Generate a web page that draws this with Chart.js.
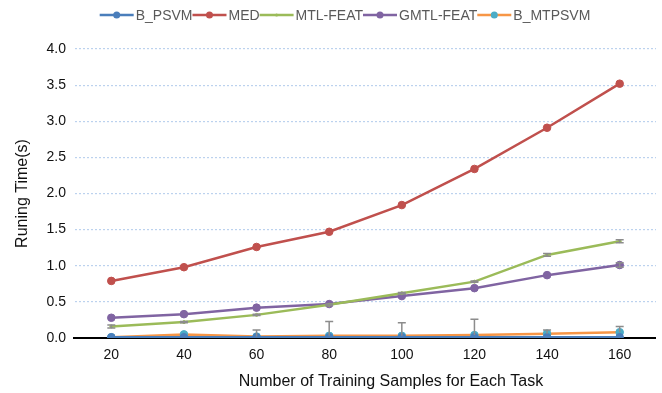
<!DOCTYPE html>
<html>
<head>
<meta charset="utf-8">
<script src="https://cdn.jsdelivr.net/npm/chart.js@4/dist/chart.umd.min.js"></script>
<style>
  html, body { margin: 0; padding: 0; background: #fff; }
  #wrap { width: 662px; height: 393px; }
</style>
</head>
<body>
<div id="wrap"><canvas id="myChart" width="662" height="393"></canvas></div>
<script>
var samples = ['20', '40', '60', '80', '100', '120', '140', '160'];

var bPsvm    = [0.01, 0.01, 0.01, 0.01, 0.01, 0.01, 0.01, 0.01];
var med      = [0.79, 0.98, 1.26, 1.47, 1.84, 2.34, 2.91, 3.52];
var mtlFeat  = [0.16, 0.22, 0.32, 0.46, 0.62, 0.78, 1.15, 1.34];
var gmtlFeat = [0.28, 0.33, 0.42, 0.47, 0.58, 0.69, 0.87, 1.01];
var bMtpsvm  = [0.01, 0.05, 0.02, 0.03, 0.03, 0.04, 0.06, 0.08];

// error bar half-ranges
var mtlFeatErr  = [0.02, 0.01, 0.01, 0.01, 0.01, 0.01, 0.02, 0.02];
var gmtlFeatErr = [0.0, 0.0, 0.0, 0.0, 0.0, 0.0, 0.0, 0.03];
var bMtpsvmErr  = [0.0, 0.0, 0.09, 0.2, 0.18, 0.22, 0.05, 0.08];

var yTicks = [0, 0.5, 1, 1.5, 2, 2.5, 3, 3.5, 4];
var xTitle = 'Number of Training Samples for Each Task';

var FONT = '"Liberation Sans", Arial, sans-serif';

var errorBars = {
    id: 'errorBars',
    afterDatasetsDraw: function (chart) {
        var ctx = chart.ctx;
        var xs = chart.scales.x, ys = chart.scales.y;
        chart.data.datasets.forEach(function (ds) {
            if (!ds.errors) return;
            ds.data.forEach(function (v, i) {
                var e = ds.errors[i];
                if (!e) return;
                var x = xs.getPixelForValue(i);
                var top = ys.getPixelForValue(v + e);
                var bot = ys.getPixelForValue(ds.errDown ? v - e : v);
                ctx.save();
                ctx.strokeStyle = '#8c8c8c';
                ctx.lineWidth = 1.5;
                ctx.beginPath();
                ctx.moveTo(x, top); ctx.lineTo(x, bot);
                ctx.moveTo(x - 4, top); ctx.lineTo(x + 4, top);
                if (ds.errDown) { ctx.moveTo(x - 4, bot); ctx.lineTo(x + 4, bot); }
                ctx.stroke();
                ctx.restore();
            });
        });
    }
};

var zeroLine = {
    id: 'zeroLine',
    beforeDatasetsDraw: function (chart) {
        var ctx = chart.ctx, a = chart.chartArea;
        var y = chart.scales.y.getPixelForValue(0);
        ctx.save();
        ctx.strokeStyle = '#000';
        ctx.lineWidth = 2;
        ctx.beginPath();
        ctx.moveTo(a.left - 2, y); ctx.lineTo(a.right, y);
        ctx.stroke();
        ctx.restore();
    }
};

// legend with line + marker, and x-axis title drawn where the original puts it
var lineLegend = {
    id: 'lineLegend',
    afterDraw: function (chart) {
        var ctx = chart.ctx;
        ctx.save();
        ctx.font = '14px ' + FONT;
        var lineLen = 34, gap = 2;
        var items = chart.data.datasets;
        var total = 0;
        items.forEach(function (d) { total += lineLen + gap + ctx.measureText(d.label).width; });
        var x = 345 - total / 2, y = 15;
        items.forEach(function (d) {
            ctx.strokeStyle = d.borderColor;
            ctx.lineWidth = 2.5;
            ctx.beginPath();
            ctx.moveTo(x, y); ctx.lineTo(x + lineLen, y);
            ctx.stroke();
            ctx.fillStyle = d.pointBackgroundColor;
            ctx.beginPath();
            ctx.arc(x + lineLen / 2, y, d.pointRadius > 3 ? 3.5 : 1.5, 0, Math.PI * 2);
            ctx.fill();
            ctx.fillStyle = '#595959';
            ctx.textBaseline = 'middle';
            ctx.textAlign = 'left';
            ctx.fillText(d.label, x + lineLen + gap, y + 1);
            x += lineLen + gap + ctx.measureText(d.label).width;
        });

        ctx.font = '16px ' + FONT;
        ctx.fillStyle = '#111';
        ctx.textAlign = 'center';
        ctx.textBaseline = 'middle';
        ctx.fillText(xTitle, 391, 382);
        ctx.restore();
    }
};

function series(label, data, line, point, radius, errs, errDown) {
    return {
        label: label,
        data: data,
        borderColor: line,
        backgroundColor: point,
        pointBackgroundColor: point,
        pointBorderColor: point,
        pointRadius: radius,
        pointHoverRadius: radius,
        pointBorderWidth: 1,
        borderWidth: 2.5,
        tension: 0,
        fill: false,
        errors: errs,
        errDown: errDown
    };
}

var ctx = document.getElementById('myChart').getContext('2d');
new Chart(ctx, {
    type: 'line',
    data: {
        labels: samples,
        datasets: [
            series('B_PSVM', bPsvm, '#4a7ebb', '#4a7ebb', 3.8),
            series('MED', med, '#c0504d', '#c0504d', 3.8),
            series('MTL-FEAT', mtlFeat, '#9bbb59', '#9bbb59', 1.5, mtlFeatErr, true),
            series('GMTL-FEAT', gmtlFeat, '#8064a2', '#8064a2', 3.8, gmtlFeatErr, true),
            series('B_MTPSVM', bMtpsvm, '#f79646', '#4bacc6', 3.8, bMtpsvmErr, false)
        ]
    },
    options: {
        responsive: false,
        animation: false,
        layout: { padding: { top: 49, right: 6, left: 0, bottom: 0 } },
        plugins: {
            legend: { display: false },
            tooltip: { enabled: false }
        },
        scales: {
            x: {
                offset: true,
                grid: { display: false, drawTicks: false },
                border: { display: false },
                ticks: { color: '#111', font: { size: 14, family: FONT }, padding: 9 },
                afterFit: function (s) { s.height = 55; }
            },
            y: {
                min: 0,
                max: 4,
                afterBuildTicks: function (s) { s.ticks = yTicks.map(function (v) { return { value: v }; }); },
                grid: {
                    color: function (c) { return c.tick && c.tick.value === 0 ? 'rgba(0,0,0,0)' : '#bcd2ee'; },
                    drawTicks: false,
                    lineWidth: 1.2
                },
                border: { display: false, dash: [2, 2] },
                ticks: {
                    color: '#111',
                    font: { size: 14, family: FONT },
                    padding: 9,
                    callback: function (v) { return v.toFixed(1); }
                },
                title: {
                    display: true,
                    text: 'Runing Time(s)',
                    color: '#111',
                    font: { size: 16, family: FONT },
                    padding: { top: 13, bottom: 8 }
                },
                afterFit: function (s) { s.width = 75; }
            }
        }
    },
    plugins: [zeroLine, errorBars, lineLegend]
});
</script>
</body>
</html>
